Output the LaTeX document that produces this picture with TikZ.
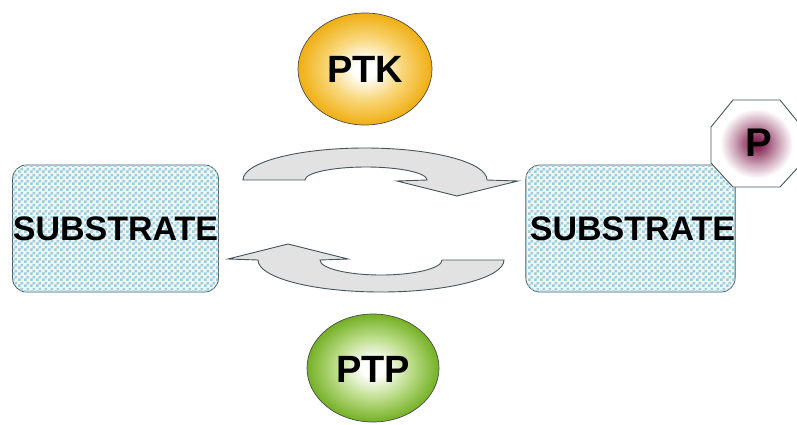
\documentclass[tikz,border=0pt]{standalone}
\usepackage{fontspec}
\setmainfont{Liberation Sans}
\usetikzlibrary{patterns.meta}
\definecolor{ptkout}{RGB}{240,174,18}
\definecolor{ptkmid}{RGB}{248,214,120}
\definecolor{ptpout}{RGB}{116,176,36}
\definecolor{ptpmid}{RGB}{190,222,140}
\definecolor{pmar}{RGB}{125,20,70}
\definecolor{boxbg}{RGB}{244,246,238}
\definecolor{chk}{RGB}{150,206,230}
\definecolor{edge}{RGB}{70,85,92}
\definecolor{arrfill}{RGB}{226,226,226}
\pgfdeclareradialshading{ptkshade}{\pgfpoint{0bp}{0bp}}{color(0bp)=(white); color(4bp)=(white); color(14bp)=(ptkmid); color(25bp)=(ptkout); color(50bp)=(ptkout)}
\pgfdeclareradialshading{ptpshade}{\pgfpoint{0bp}{0bp}}{color(0bp)=(white); color(4bp)=(white); color(14bp)=(ptpmid); color(25bp)=(ptpout); color(50bp)=(ptpout)}
\pgfdeclareradialshading{pshade}{\pgfpoint{0bp}{0bp}}{color(0bp)=(pmar); color(4bp)=(pmar!85!white); color(12bp)=(pmar!40!white); color(20bp)=(white); color(50bp)=(white)}
\pgfdeclarepattern{name=chkpat, type=uncolored,
  bottom left={\pgfpoint{0pt}{0pt}}, top right={\pgfpoint{6pt}{6pt}},
  tile size={\pgfpoint{6pt}{6pt}},
  code={\pgfpathrectangle{\pgfpointorigin}{\pgfpoint{3pt}{3pt}}
        \pgfpathrectangle{\pgfpoint{3pt}{3pt}}{\pgfpoint{3pt}{3pt}}
        \pgfusepath{fill}}}
\tikzset{
  substrate/.style={draw=edge, line width=0.8pt, rounded corners=14pt,
    fill=boxbg, postaction={pattern=chkpat, pattern color=chk},
    minimum width=206pt, minimum height=127pt, inner sep=0pt,
    font=\fontsize{34}{36}\selectfont\bfseries},
  enzymefont/.style={font=\fontsize{38}{40}\selectfont\bfseries},
  blockarrow/.style={draw=edge, line width=0.9pt, fill=arrfill},
  oct/.style={draw=edge, line width=0.9pt, shading=pshade},
}
\begin{document}
\begin{tikzpicture}[x=1pt, y=-1pt]
\useasboundingbox (0,0) rectangle (797,424);
% substrate boxes
\node[substrate] (s1) at (115.5,228.5) {SUBSTRATE};
\node[substrate] (s2) at (630.5,228.5) {\hspace*{4pt}SUBSTRATE};
% phosphate octagon
\path[oct] (733,100) -- (780,100) -- (802,127) -- (802,163) -- (780,187)
  -- (733,187) -- (711,163) -- (711,127) -- cycle;
\node[font=\fontsize{40}{42}\selectfont\bfseries] (p) at (759,143) {P};
% enzymes
\path[draw=black!70, line width=0.7pt, shading=ptkshade] (365,69) ellipse [x radius=67, y radius=56];
\node[enzymefont] (ptk) at (365,69) {PTK};
\path[draw=black!70, line width=0.7pt, shading=ptpshade] (373,368) ellipse [x radius=66, y radius=54];
\node[enzymefont] (ptp) at (373,369) {PTP};
% top curved arrow
\path[blockarrow] (243,180) arc[start angle=180, end angle=360, x radius=122, y radius=32]
  -- (518,181) -- (457,196) -- (397,181) -- (427,180)
  arc[start angle=0, end angle=-180, x radius=61, y radius=13] -- cycle;
% bottom curved arrow
\path[blockarrow] (228,259) -- (288,244) -- (348,259) -- (320,260)
  arc[start angle=180, end angle=0, x radius=61, y radius=15]
  -- (504,260) arc[start angle=0, end angle=180, x radius=123, y radius=32] -- cycle;
\end{tikzpicture}
\end{document}
